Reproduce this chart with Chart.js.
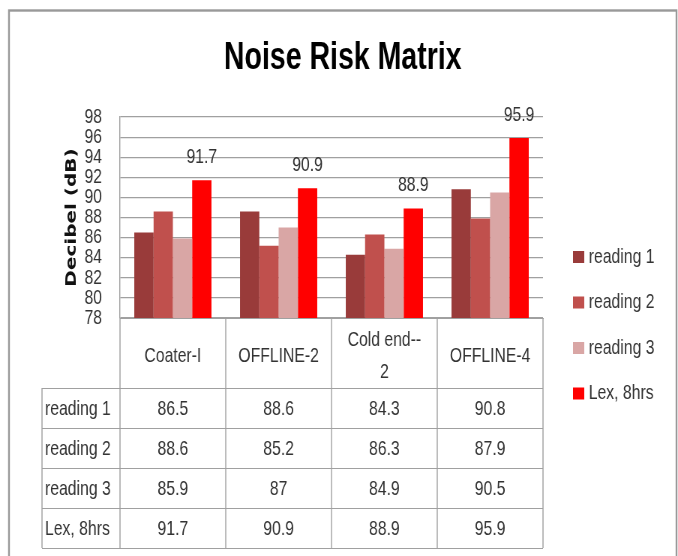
<!DOCTYPE html>
<html>
<head>
<meta charset="utf-8">
<title>Noise Risk Matrix</title>
<script src="https://cdn.jsdelivr.net/npm/chart.js@4.4.0/dist/chart.umd.min.js"></script>
<style>
  html, body { margin: 0; padding: 0; background: #fff; overflow: hidden; }
  /* the original Excel chart is squeezed horizontally, so the whole canvas is too */
  #wrap { width: 904px; height: 556px; transform: scaleX(0.75); transform-origin: 0 0; }
</style>
</head>
<body>
<div id="wrap"><canvas id="noiseChart" width="904" height="556"></canvas></div>
<script>
const categories = ['Coater-I', 'OFFLINE-2', ['Cold end--', '2'], 'OFFLINE-4'];
const seriesNames = ['reading 1', 'reading 2', 'reading 3', 'Lex, 8hrs'];
const reading1 = [86.5, 88.6, 84.3, 90.8];
const reading2 = [88.6, 85.2, 86.3, 87.9];
const reading3 = [85.9, 87, 84.9, 90.5];
const lex8hrs = [91.7, 90.9, 88.9, 95.9];
const yMin = 78, yMax = 98, yStep = 2;

const seriesColors = ['#993b3a', '#c0504d', '#d9a6a5', '#ff0000'];
const FONT = "'Liberation Sans', Arial, sans-serif";
const LINE = '#a0a0a0';
const TEXT = '#333';
const ROW_H = 40;        // height of one data-table row
const TABLE_LEFT = 56;   // left edge of the row label column

// outer frame + white background
const framePlugin = {
    id: 'frame',
    beforeDraw(chart) {
        const ctx = chart.ctx;
        ctx.save();
        ctx.fillStyle = '#fff';
        ctx.fillRect(0, 0, chart.width, chart.height);
        ctx.strokeStyle = '#999';
        ctx.lineWidth = 2.4;
        ctx.strokeRect(12, 10.5, 890, chart.height + 10);
        ctx.restore();
    }
};

// value labels above the Lex bars only
const lexLabelPlugin = {
    id: 'lexLabels',
    afterDatasetsDraw(chart) {
        const ctx = chart.ctx;
        const meta = chart.getDatasetMeta(3);
        ctx.save();
        ctx.font = '21px ' + FONT;
        ctx.fillStyle = TEXT;
        ctx.textAlign = 'center';
        ctx.textBaseline = 'middle';
        meta.data.forEach((bar, i) => {
            ctx.fillText(String(chart.data.datasets[3].data[i]), bar.x, bar.y - 23);
        });
        ctx.restore();
    }
};

// data table under the x axis (the axis labels form its header row)
const dataTablePlugin = {
    id: 'dataTable',
    afterDraw(chart) {
        const ctx = chart.ctx;
        const xs = chart.scales.x;
        const area = chart.chartArea;
        const sets = chart.data.datasets;
        const n = chart.data.labels.length;
        const step = (area.right - area.left) / n;
        const headTop = area.bottom;
        const headBottom = xs.bottom;
        const tableBottom = headBottom + sets.length * ROW_H;

        ctx.save();
        ctx.strokeStyle = LINE;
        // vertical lines (thicker, they get squeezed by the css scale)
        ctx.lineWidth = 1.4;
        ctx.beginPath();
        for (let i = 0; i <= n; i++) {
            const x = area.left + i * step;
            ctx.moveTo(x, headTop);
            ctx.lineTo(x, tableBottom);
        }
        ctx.moveTo(TABLE_LEFT, headBottom);
        ctx.lineTo(TABLE_LEFT, tableBottom);
        ctx.stroke();
        // horizontal lines
        ctx.lineWidth = 1;
        ctx.beginPath();
        for (let r = 0; r <= sets.length; r++) {
            const y = Math.round(headBottom + r * ROW_H) + 0.5;
            ctx.moveTo(TABLE_LEFT, y);
            ctx.lineTo(area.right, y);
        }
        ctx.stroke();

        ctx.fillStyle = TEXT;
        ctx.font = '21px ' + FONT;
        ctx.textBaseline = 'middle';
        sets.forEach((ds, r) => {
            const yMid = headBottom + r * ROW_H + ROW_H / 2 + 1;
            ctx.textAlign = 'left';
            ctx.fillText(ds.label, TABLE_LEFT + 4, yMid);
            ctx.textAlign = 'center';
            ds.data.forEach((v, c) => ctx.fillText(String(v), xs.getPixelForValue(c), yMid));
        });
        ctx.restore();
    }
};

// legend on the right, drawn from the datasets
const sideLegendPlugin = {
    id: 'sideLegend',
    afterDraw(chart) {
        const ctx = chart.ctx;
        const x0 = chart.chartArea.right + 40;
        ctx.save();
        ctx.font = '21px ' + FONT;
        ctx.textAlign = 'left';
        ctx.textBaseline = 'middle';
        chart.data.datasets.forEach((ds, i) => {
            const yc = 257 + i * 45.5;
            ctx.fillStyle = ds.backgroundColor;
            ctx.fillRect(x0, yc - 6, 15, 12);
            ctx.fillStyle = TEXT;
            ctx.fillText(ds.label, x0 + 21, yc);
        });
        ctx.restore();
    }
};

const seriesData = [reading1, reading2, reading3, lex8hrs];

const ctx = document.getElementById('noiseChart').getContext('2d');
window.noiseChartInstance = new Chart(ctx, {
    type: 'bar',
    data: {
        labels: categories,
        datasets: seriesNames.map((name, i) => ({
            label: name,
            data: seriesData[i],
            backgroundColor: seriesColors[i],
            borderWidth: 0,
            categoryPercentage: 0.73,
            barPercentage: 1.0
        }))
    },
    options: {
        responsive: false,
        animation: false,
        layout: {
            padding: { left: 10, right: 0, top: 0, bottom: 168 }
        },
        plugins: {
            legend: { display: false },
            tooltip: { enabled: false },
            title: {
                display: true,
                text: 'Noise Risk Matrix',
                color: '#000',
                font: { family: FONT, size: 38, weight: 'bold', lineHeight: 1.2 },
                padding: { top: 36, bottom: 35.4 }
            }
        },
        scales: {
            x: {
                grid: { display: false },
                border: { display: true, color: LINE },
                ticks: {
                    color: TEXT,
                    font: { family: FONT, size: 21, lineHeight: 1.52 },
                    padding: 14,
                    crossAlign: 'center',
                    maxRotation: 0,
                    autoSkip: false
                },
                afterFit: function(scale) { scale.height = 70; }
            },
            y: {
                min: yMin,
                max: yMax,
                ticks: {
                    stepSize: yStep,
                    autoSkip: false,
                    color: TEXT,
                    font: { family: FONT, size: 21, lineHeight: 1 },
                    padding: 24
                },
                grid: { color: LINE, lineWidth: 1.2, drawTicks: false },
                border: { display: true, color: LINE, width: 1.4 },
                title: {
                    display: true,
                    text: 'Decibel (dB)',
                    color: '#111',
                    font: { family: "'DejaVu Sans', sans-serif", size: 20, weight: 'bold' },
                    padding: { top: 74, bottom: 0 }
                },
                afterFit: function(scale) { scale.width = 150; }
            },
            // empty right-hand scale that keeps room for the legend
            side: {
                type: 'linear',
                position: 'right',
                display: true,
                grid: { display: false },
                border: { display: false },
                ticks: { display: false },
                afterFit: function(scale) { scale.width = 180; }
            }
        }
    },
    plugins: [framePlugin, lexLabelPlugin, dataTablePlugin, sideLegendPlugin]
});
</script>
</body>
</html>
